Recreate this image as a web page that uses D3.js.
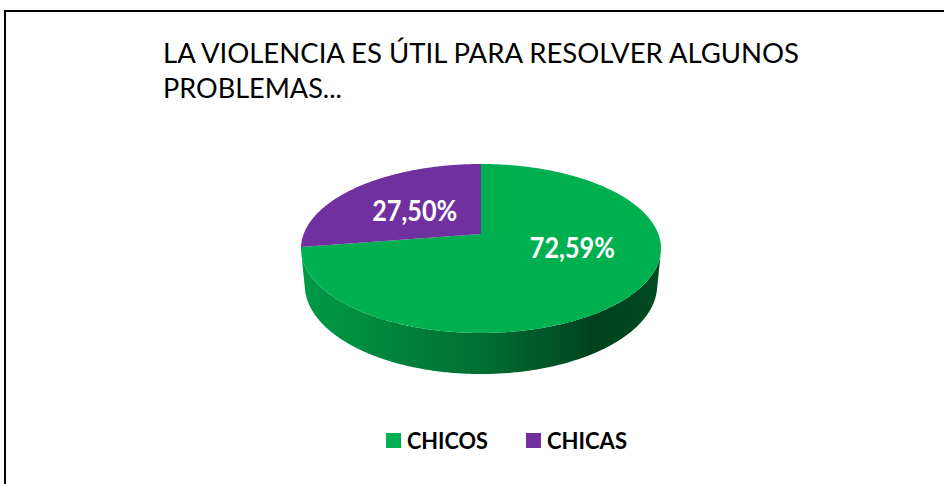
<!DOCTYPE html>
<html>
<head>
<meta charset="utf-8">
<script src="https://cdn.jsdelivr.net/npm/d3@7"></script>
<style>
  body { margin: 0; background: #fff; }
  svg { display: block; }
  text { font-family: Lato, "Open Sans", "Noto Sans", sans-serif; }
</style>
</head>
<body>
<svg id="chart" width="944" height="484"></svg>
<script>
// data
const categories = ["CHICOS", "CHICAS"];
const values = [72.59, 27.50];
const valueLabels = ["72,59%", "27,50%"];
const titleLines = ["LA VIOLENCIA ES ÚTIL PARA RESOLVER ALGUNOS", "PROBLEMAS..."];

const colors = ["#00B050", "#7030A0"];

const svg = d3.select("#chart");

// frame, only top and left edges fall inside the window
svg.append("rect")
    .attr("x", 5).attr("y", 11)
    .attr("width", 1000).attr("height", 600)
    .attr("fill", "none")
    .attr("stroke", "#000")
    .attr("stroke-width", 2);

// title
svg.append("g").selectAll("text")
    .data(titleLines)
    .enter().append("text")
    .attr("x", 163)
    .attr("y", (d, i) => 63 + i * 35)
    .attr("font-size", 26)
    .attr("fill", "#000")
    .attr("textLength", (d, i) => i === 0 ? 636 : 179)
    .attr("lengthAdjust", "spacingAndGlyphs")
    .text(d => d);

// perspective view of a tilted disk
const view = { cx: 481, cy: 234, f: 916.8, D: 5.17, s: 0.4624, h: 0.235 };
view.c = Math.sqrt(1 - view.s * view.s);

// a: clockwise from 12 o'clock, r: radius fraction, y: 0 top face, -h bottom
function project(a, r, y) {
    const x = r * Math.sin(a), z = -r * Math.cos(a);
    const up = y * view.c - z * view.s;
    const depth = view.D - (y * view.s + z * view.c);
    return [view.cx + view.f * x / depth, view.cy - view.f * up / depth];
}

function arcPoints(a0, a1, y) {
    const n = Math.max(2, Math.ceil(Math.abs(a1 - a0) / 0.01));
    return d3.range(n + 1).map(k => project(a0 + (a1 - a0) * k / n, 1, y));
}

const pie = d3.pie().sort(null).value(d => d);
const arcs = pie(values);
const line = d3.line();

// visible part of the outer wall
const aMin = Math.acos(-1 / (view.D * view.c));
const aMax = 2 * Math.PI - aMin;

const leftX = d3.min(d3.range(0, 2 * Math.PI, 0.005), a => project(a, 1, 0)[0]);
const rightX = d3.max(d3.range(0, 2 * Math.PI, 0.005), a => project(a, 1, 0)[0]);

const defs = svg.append("defs");
arcs.forEach((d, i) => {
    const base = d3.rgb(colors[i]);
    const grad = defs.append("linearGradient")
        .attr("id", "wall" + i)
        .attr("gradientUnits", "userSpaceOnUse")
        .attr("x1", leftX).attr("x2", rightX)
        .attr("y1", 0).attr("y2", 0);
    [[0, 0.35], [0.5, 1.3], [0.82, 2.75], [1, 2.4]].forEach(st => {
        grad.append("stop")
            .attr("offset", st[0])
            .attr("stop-color", base.darker(st[1]).formatHex());
    });
});

const pieG = svg.append("g");

// walls
arcs.forEach((d, i) => {
    const lo = Math.max(d.startAngle, aMin), hi = Math.min(d.endAngle, aMax);
    if (lo >= hi) return;
    const pts = arcPoints(lo, hi, 0).concat(arcPoints(hi, lo, -view.h));
    pieG.append("path")
        .attr("d", line(pts) + "Z")
        .attr("fill", "url(#wall" + i + ")");
});

// top faces
pieG.selectAll("path.top")
    .data(arcs)
    .enter().append("path")
    .attr("class", "top")
    .attr("d", d => line([project(0, 0, 0)].concat(arcPoints(d.startAngle, d.endAngle, 0))) + "Z")
    .attr("fill", (d, i) => colors[i]);

// value labels
const labelNudge = [[0, -22], [13, 8]];
pieG.selectAll("text")
    .data(arcs)
    .enter().append("text")
    .each(function(d, i) {
        const p = project((d.startAngle + d.endAngle) / 2, 0.63, 0);
        d3.select(this)
            .attr("x", p[0] + labelNudge[i][0])
            .attr("y", p[1] + labelNudge[i][1] + 10);
    })
    .attr("text-anchor", "middle")
    .attr("font-size", 28)
    .attr("font-weight", "bold")
    .attr("fill", "#fff")
    .attr("textLength", 85)
    .attr("lengthAdjust", "spacingAndGlyphs")
    .text((d, i) => valueLabels[i]);

// legend
const legend = svg.append("g").attr("transform", "translate(386,433)");
const item = legend.selectAll("g")
    .data(categories)
    .enter().append("g")
    .attr("transform", (d, i) => "translate(" + (i * 140) + ",0)");
item.append("rect")
    .attr("width", 15).attr("height", 15)
    .attr("fill", (d, i) => colors[i]);
item.append("text")
    .attr("x", 21).attr("y", 15.5)
    .attr("font-size", 22)
    .attr("font-weight", "bold")
    .attr("fill", "#000")
    .attr("textLength", (d, i) => i === 0 ? 81 : 80)
    .attr("lengthAdjust", "spacingAndGlyphs")
    .text(d => d);
</script>
</body>
</html>
